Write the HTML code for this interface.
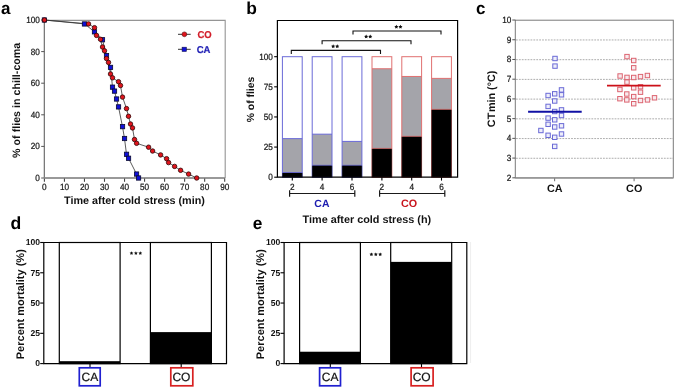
<!DOCTYPE html>
<html><head><meta charset="utf-8"><style>
html,body{margin:0;padding:0;background:#fff;}
svg{display:block;font-family:"Liberation Sans", sans-serif;will-change:transform;text-rendering:geometricPrecision;}
</style></head><body>
<svg width="675" height="388" viewBox="0 0 675 388">
<rect width="675" height="388" fill="#fff"/>
<text x="1.0" y="13.6" font-size="17.0" text-anchor="start" font-weight="bold" fill="#000" >a</text>
<text x="246.3" y="13.6" font-size="17.4" text-anchor="start" font-weight="bold" fill="#000" >b</text>
<text x="475.9" y="13.6" font-size="17.0" text-anchor="start" font-weight="bold" fill="#000" >c</text>
<text x="10.4" y="228.5" font-size="17.6" text-anchor="start" font-weight="bold" fill="#000" >d</text>
<text x="252.8" y="228.5" font-size="17.3" text-anchor="start" font-weight="bold" fill="#000" >e</text>
<path d="M44.4,178 V20.4 H225.2 V178" fill="none" stroke="#959595" stroke-width="1.1"/>
<line x1="44.4" y1="20.4" x2="44.4" y2="178" stroke="#7a7a7a" stroke-width="1.2" />
<line x1="44.4" y1="178" x2="225.2" y2="178" stroke="#999" stroke-width="1.9" />
<line x1="41.2" y1="178.0" x2="44.4" y2="178.0" stroke="#555" stroke-width="1" />
<text transform="translate(39.80 180.90) scale(1 1.1)" font-size="8.2" text-anchor="end" font-weight="normal" fill="#1a1a1a" stroke="#1a1a1a" stroke-width="0.22">0</text>
<line x1="41.2" y1="146.4" x2="44.4" y2="146.4" stroke="#555" stroke-width="1" />
<text transform="translate(39.80 149.30) scale(1 1.1)" font-size="8.2" text-anchor="end" font-weight="normal" fill="#1a1a1a" stroke="#1a1a1a" stroke-width="0.22">20</text>
<line x1="41.2" y1="114.8" x2="44.4" y2="114.8" stroke="#555" stroke-width="1" />
<text transform="translate(39.80 117.70) scale(1 1.1)" font-size="8.2" text-anchor="end" font-weight="normal" fill="#1a1a1a" stroke="#1a1a1a" stroke-width="0.22">40</text>
<line x1="41.2" y1="83.19999999999999" x2="44.4" y2="83.19999999999999" stroke="#555" stroke-width="1" />
<text transform="translate(39.80 86.10) scale(1 1.1)" font-size="8.2" text-anchor="end" font-weight="normal" fill="#1a1a1a" stroke="#1a1a1a" stroke-width="0.22">60</text>
<line x1="41.2" y1="51.599999999999994" x2="44.4" y2="51.599999999999994" stroke="#555" stroke-width="1" />
<text transform="translate(39.80 54.50) scale(1 1.1)" font-size="8.2" text-anchor="end" font-weight="normal" fill="#1a1a1a" stroke="#1a1a1a" stroke-width="0.22">80</text>
<line x1="41.2" y1="20.0" x2="44.4" y2="20.0" stroke="#555" stroke-width="1" />
<text transform="translate(39.80 22.90) scale(1 1.1)" font-size="8.2" text-anchor="end" font-weight="normal" fill="#1a1a1a" stroke="#1a1a1a" stroke-width="0.22">100</text>
<line x1="44.4" y1="178.5" x2="44.4" y2="181.8" stroke="#444" stroke-width="1.1" />
<text transform="translate(44.40 190.10) scale(1 1.1)" font-size="8.2" text-anchor="middle" font-weight="normal" fill="#1a1a1a" stroke="#1a1a1a" stroke-width="0.22">0</text>
<line x1="64.43299999999999" y1="178.5" x2="64.43299999999999" y2="181.8" stroke="#444" stroke-width="1.1" />
<text transform="translate(64.43 190.10) scale(1 1.1)" font-size="8.2" text-anchor="middle" font-weight="normal" fill="#1a1a1a" stroke="#1a1a1a" stroke-width="0.22">10</text>
<line x1="84.466" y1="178.5" x2="84.466" y2="181.8" stroke="#444" stroke-width="1.1" />
<text transform="translate(84.47 190.10) scale(1 1.1)" font-size="8.2" text-anchor="middle" font-weight="normal" fill="#1a1a1a" stroke="#1a1a1a" stroke-width="0.22">20</text>
<line x1="104.499" y1="178.5" x2="104.499" y2="181.8" stroke="#444" stroke-width="1.1" />
<text transform="translate(104.50 190.10) scale(1 1.1)" font-size="8.2" text-anchor="middle" font-weight="normal" fill="#1a1a1a" stroke="#1a1a1a" stroke-width="0.22">30</text>
<line x1="124.53199999999998" y1="178.5" x2="124.53199999999998" y2="181.8" stroke="#444" stroke-width="1.1" />
<text transform="translate(124.53 190.10) scale(1 1.1)" font-size="8.2" text-anchor="middle" font-weight="normal" fill="#1a1a1a" stroke="#1a1a1a" stroke-width="0.22">40</text>
<line x1="144.565" y1="178.5" x2="144.565" y2="181.8" stroke="#444" stroke-width="1.1" />
<text transform="translate(144.56 190.10) scale(1 1.1)" font-size="8.2" text-anchor="middle" font-weight="normal" fill="#1a1a1a" stroke="#1a1a1a" stroke-width="0.22">50</text>
<line x1="164.59799999999998" y1="178.5" x2="164.59799999999998" y2="181.8" stroke="#444" stroke-width="1.1" />
<text transform="translate(164.60 190.10) scale(1 1.1)" font-size="8.2" text-anchor="middle" font-weight="normal" fill="#1a1a1a" stroke="#1a1a1a" stroke-width="0.22">60</text>
<line x1="184.631" y1="178.5" x2="184.631" y2="181.8" stroke="#444" stroke-width="1.1" />
<text transform="translate(184.63 190.10) scale(1 1.1)" font-size="8.2" text-anchor="middle" font-weight="normal" fill="#1a1a1a" stroke="#1a1a1a" stroke-width="0.22">70</text>
<line x1="204.664" y1="178.5" x2="204.664" y2="181.8" stroke="#444" stroke-width="1.1" />
<text transform="translate(204.66 190.10) scale(1 1.1)" font-size="8.2" text-anchor="middle" font-weight="normal" fill="#1a1a1a" stroke="#1a1a1a" stroke-width="0.22">80</text>
<line x1="224.697" y1="178.5" x2="224.697" y2="181.8" stroke="#444" stroke-width="1.1" />
<text transform="translate(224.70 190.10) scale(1 1.1)" font-size="8.2" text-anchor="middle" font-weight="normal" fill="#1a1a1a" stroke="#1a1a1a" stroke-width="0.22">90</text>
<text x="134.5" y="204.2" font-size="10.8" text-anchor="middle" font-weight="bold" fill="#111" >Time after cold stress (min)</text>
<text x="19.8" y="100.3" font-size="10.7" text-anchor="middle" font-weight="bold" fill="#111" transform="rotate(-90 19.8 100.3)">% of flies in chill-coma</text>
<polyline points="44.4,20.0 84.5,23.9 94.5,31.8 102.5,39.8 106.5,55.5 110.5,67.4 112.5,87.1 114.5,91.1 116.5,99.0 118.5,106.9 122.5,126.7 124.5,138.5 126.5,154.3 128.5,158.2 136.6,174.1 138.6,178.0" fill="none" stroke="#333" stroke-width="0.8"/>
<polyline points="44.4,20.0 88.5,23.9 94.5,27.7 96.5,35.4 100.5,39.3 102.5,47.0 104.5,50.8 106.5,58.5 108.5,62.4 110.5,74.0 112.5,77.8 118.5,81.7 120.5,85.5 122.5,97.1 126.5,108.6 128.5,116.3 130.5,124.0 132.5,127.9 134.5,139.5 136.6,143.3 148.6,147.2 152.6,151.0 160.6,154.9 166.6,158.7 168.6,162.6 174.6,166.4 180.6,170.3 188.6,174.1 196.7,178.0" fill="none" stroke="#333" stroke-width="0.8"/>
<rect x="42.25" y="17.85" width="4.3" height="4.3" fill="#1010d8" stroke="#0a0a30" stroke-width="0.8" />
<rect x="82.31599999999999" y="21.79999999999999" width="4.3" height="4.3" fill="#1010d8" stroke="#0a0a30" stroke-width="0.8" />
<rect x="92.33249999999998" y="29.699999999999996" width="4.3" height="4.3" fill="#1010d8" stroke="#0a0a30" stroke-width="0.8" />
<rect x="100.3457" y="37.6" width="4.3" height="4.3" fill="#1010d8" stroke="#0a0a30" stroke-width="0.8" />
<rect x="104.35229999999999" y="53.4" width="4.3" height="4.3" fill="#1010d8" stroke="#0a0a30" stroke-width="0.8" />
<rect x="108.35889999999998" y="65.24999999999999" width="4.3" height="4.3" fill="#1010d8" stroke="#0a0a30" stroke-width="0.8" />
<rect x="110.3622" y="84.99999999999999" width="4.3" height="4.3" fill="#1010d8" stroke="#0a0a30" stroke-width="0.8" />
<rect x="112.3655" y="88.94999999999999" width="4.3" height="4.3" fill="#1010d8" stroke="#0a0a30" stroke-width="0.8" />
<rect x="114.3688" y="96.85" width="4.3" height="4.3" fill="#1010d8" stroke="#0a0a30" stroke-width="0.8" />
<rect x="116.37209999999999" y="104.74999999999999" width="4.3" height="4.3" fill="#1010d8" stroke="#0a0a30" stroke-width="0.8" />
<rect x="120.37869999999998" y="124.5" width="4.3" height="4.3" fill="#1010d8" stroke="#0a0a30" stroke-width="0.8" />
<rect x="122.38199999999998" y="136.35" width="4.3" height="4.3" fill="#1010d8" stroke="#0a0a30" stroke-width="0.8" />
<rect x="124.3853" y="152.15" width="4.3" height="4.3" fill="#1010d8" stroke="#0a0a30" stroke-width="0.8" />
<rect x="126.3886" y="156.1" width="4.3" height="4.3" fill="#1010d8" stroke="#0a0a30" stroke-width="0.8" />
<rect x="134.40179999999998" y="171.9" width="4.3" height="4.3" fill="#1010d8" stroke="#0a0a30" stroke-width="0.8" />
<rect x="136.40509999999998" y="175.85" width="4.3" height="4.3" fill="#1010d8" stroke="#0a0a30" stroke-width="0.8" />
<circle cx="44.4" cy="20.0" r="2.25" fill="#e0141c" stroke="#300808" stroke-width="0.8"/>
<circle cx="88.5" cy="23.9" r="2.25" fill="#e0141c" stroke="#300808" stroke-width="0.8"/>
<circle cx="94.5" cy="27.7" r="2.25" fill="#e0141c" stroke="#300808" stroke-width="0.8"/>
<circle cx="96.5" cy="35.4" r="2.25" fill="#e0141c" stroke="#300808" stroke-width="0.8"/>
<circle cx="100.5" cy="39.3" r="2.25" fill="#e0141c" stroke="#300808" stroke-width="0.8"/>
<circle cx="102.5" cy="47.0" r="2.25" fill="#e0141c" stroke="#300808" stroke-width="0.8"/>
<circle cx="104.5" cy="50.8" r="2.25" fill="#e0141c" stroke="#300808" stroke-width="0.8"/>
<circle cx="106.5" cy="58.5" r="2.25" fill="#e0141c" stroke="#300808" stroke-width="0.8"/>
<circle cx="108.5" cy="62.4" r="2.25" fill="#e0141c" stroke="#300808" stroke-width="0.8"/>
<circle cx="110.5" cy="74.0" r="2.25" fill="#e0141c" stroke="#300808" stroke-width="0.8"/>
<circle cx="112.5" cy="77.8" r="2.25" fill="#e0141c" stroke="#300808" stroke-width="0.8"/>
<circle cx="118.5" cy="81.7" r="2.25" fill="#e0141c" stroke="#300808" stroke-width="0.8"/>
<circle cx="120.5" cy="85.5" r="2.25" fill="#e0141c" stroke="#300808" stroke-width="0.8"/>
<circle cx="122.5" cy="97.1" r="2.25" fill="#e0141c" stroke="#300808" stroke-width="0.8"/>
<circle cx="126.5" cy="108.6" r="2.25" fill="#e0141c" stroke="#300808" stroke-width="0.8"/>
<circle cx="128.5" cy="116.3" r="2.25" fill="#e0141c" stroke="#300808" stroke-width="0.8"/>
<circle cx="130.5" cy="124.0" r="2.25" fill="#e0141c" stroke="#300808" stroke-width="0.8"/>
<circle cx="132.5" cy="127.9" r="2.25" fill="#e0141c" stroke="#300808" stroke-width="0.8"/>
<circle cx="134.5" cy="139.5" r="2.25" fill="#e0141c" stroke="#300808" stroke-width="0.8"/>
<circle cx="136.6" cy="143.3" r="2.25" fill="#e0141c" stroke="#300808" stroke-width="0.8"/>
<circle cx="148.6" cy="147.2" r="2.25" fill="#e0141c" stroke="#300808" stroke-width="0.8"/>
<circle cx="152.6" cy="151.0" r="2.25" fill="#e0141c" stroke="#300808" stroke-width="0.8"/>
<circle cx="160.6" cy="154.9" r="2.25" fill="#e0141c" stroke="#300808" stroke-width="0.8"/>
<circle cx="166.6" cy="158.7" r="2.25" fill="#e0141c" stroke="#300808" stroke-width="0.8"/>
<circle cx="168.6" cy="162.6" r="2.25" fill="#e0141c" stroke="#300808" stroke-width="0.8"/>
<circle cx="174.6" cy="166.4" r="2.25" fill="#e0141c" stroke="#300808" stroke-width="0.8"/>
<circle cx="180.6" cy="170.3" r="2.25" fill="#e0141c" stroke="#300808" stroke-width="0.8"/>
<circle cx="188.6" cy="174.1" r="2.25" fill="#e0141c" stroke="#300808" stroke-width="0.8"/>
<circle cx="196.7" cy="178.0" r="2.25" fill="#e0141c" stroke="#300808" stroke-width="0.8"/>
<line x1="178" y1="34.3" x2="190.7" y2="34.3" stroke="#333" stroke-width="1" />
<circle cx="184.4" cy="34.3" r="2.4" fill="#e0141c" stroke="#501010" stroke-width="0.6"/>
<text transform="translate(197.50 37.50) scale(1 1.05)" font-size="9.5" text-anchor="start" font-weight="bold" fill="#d21e2a" stroke="#d21e2a" stroke-width="0.2">CO</text>
<line x1="178" y1="49.3" x2="190.7" y2="49.3" stroke="#333" stroke-width="1" />
<rect x="182.1" y="47.2" width="4.2" height="4.2" fill="#1010d8" stroke="#101050" stroke-width="0.6" />
<text transform="translate(196.70 52.50) scale(1 1.05)" font-size="9.5" text-anchor="start" font-weight="bold" fill="#1e1eb4" stroke="#1e1eb4" stroke-width="0.2">CA</text>
<rect x="282.40000000000003" y="56.69999999999999" width="19.8" height="81.94" fill="#fff" stroke="none" stroke-width="1" />
<rect x="282.40000000000003" y="138.64" width="19.8" height="33.8605" fill="#a4a4aa" stroke="none" stroke-width="1" />
<rect x="282.40000000000003" y="172.5005" width="19.8" height="4.6995000000000005" fill="#000" stroke="none" stroke-width="1" />
<rect x="282.40000000000003" y="56.69999999999999" width="19.8" height="120.5" fill="none" stroke="#6a6ad8" stroke-width="1" />
<line x1="282.40000000000003" y1="138.64" x2="302.20000000000005" y2="138.64" stroke="#6a6ad8" stroke-width="1" />
<line x1="282.40000000000003" y1="172.5005" x2="302.20000000000005" y2="172.5005" stroke="#6a6ad8" stroke-width="0.9" />
<rect x="282.15000000000003" y="172.95049999999998" width="20.3" height="4.2495" fill="#000" stroke="none" stroke-width="1" opacity="0.75"/>
<rect x="312.20000000000005" y="56.69999999999999" width="19.8" height="77.48149999999998" fill="#fff" stroke="none" stroke-width="1" />
<rect x="312.20000000000005" y="134.18149999999997" width="19.8" height="31.089000000000027" fill="#a4a4aa" stroke="none" stroke-width="1" />
<rect x="312.20000000000005" y="165.2705" width="19.8" height="11.92949999999999" fill="#000" stroke="none" stroke-width="1" />
<rect x="312.20000000000005" y="56.69999999999999" width="19.8" height="120.5" fill="none" stroke="#6a6ad8" stroke-width="1" />
<line x1="312.20000000000005" y1="134.18149999999997" x2="332.00000000000006" y2="134.18149999999997" stroke="#6a6ad8" stroke-width="1" />
<line x1="312.20000000000005" y1="165.2705" x2="332.00000000000006" y2="165.2705" stroke="#6a6ad8" stroke-width="0.9" />
<rect x="311.95000000000005" y="165.7205" width="20.3" height="11.479499999999991" fill="#000" stroke="none" stroke-width="1" opacity="0.75"/>
<rect x="342.1" y="56.69999999999999" width="19.8" height="84.7115" fill="#fff" stroke="none" stroke-width="1" />
<rect x="342.1" y="141.4115" width="19.8" height="23.85900000000001" fill="#a4a4aa" stroke="none" stroke-width="1" />
<rect x="342.1" y="165.2705" width="19.8" height="11.92949999999999" fill="#000" stroke="none" stroke-width="1" />
<rect x="342.1" y="56.69999999999999" width="19.8" height="120.5" fill="none" stroke="#6a6ad8" stroke-width="1" />
<line x1="342.1" y1="141.4115" x2="361.90000000000003" y2="141.4115" stroke="#6a6ad8" stroke-width="1" />
<line x1="342.1" y1="165.2705" x2="361.90000000000003" y2="165.2705" stroke="#6a6ad8" stroke-width="0.9" />
<rect x="341.85" y="165.7205" width="20.3" height="11.479499999999991" fill="#000" stroke="none" stroke-width="1" opacity="0.75"/>
<rect x="372.0" y="56.69999999999999" width="19.8" height="12.049999999999997" fill="#fff" stroke="none" stroke-width="1" />
<rect x="372.0" y="68.74999999999999" width="19.8" height="79.65050000000001" fill="#a4a4aa" stroke="none" stroke-width="1" />
<rect x="372.0" y="148.4005" width="19.8" height="28.799499999999995" fill="#000" stroke="none" stroke-width="1" />
<rect x="372.0" y="56.69999999999999" width="19.8" height="120.5" fill="none" stroke="#e07070" stroke-width="1" />
<line x1="372.0" y1="68.74999999999999" x2="391.8" y2="68.74999999999999" stroke="#e07070" stroke-width="1" />
<line x1="372.0" y1="148.4005" x2="391.8" y2="148.4005" stroke="#e07070" stroke-width="0.9" />
<rect x="371.75" y="148.85049999999998" width="20.3" height="28.349499999999995" fill="#000" stroke="none" stroke-width="1" opacity="0.75"/>
<rect x="401.8" y="56.69999999999999" width="19.8" height="19.762" fill="#fff" stroke="none" stroke-width="1" />
<rect x="401.8" y="76.46199999999999" width="19.8" height="59.88849999999999" fill="#a4a4aa" stroke="none" stroke-width="1" />
<rect x="401.8" y="136.35049999999998" width="19.8" height="40.849500000000006" fill="#000" stroke="none" stroke-width="1" />
<rect x="401.8" y="56.69999999999999" width="19.8" height="120.5" fill="none" stroke="#e07070" stroke-width="1" />
<line x1="401.8" y1="76.46199999999999" x2="421.6" y2="76.46199999999999" stroke="#e07070" stroke-width="1" />
<line x1="401.8" y1="136.35049999999998" x2="421.6" y2="136.35049999999998" stroke="#e07070" stroke-width="0.9" />
<rect x="401.55" y="136.80049999999997" width="20.3" height="40.3995" fill="#000" stroke="none" stroke-width="1" opacity="0.75"/>
<rect x="431.6" y="56.69999999999999" width="19.8" height="21.689999999999998" fill="#fff" stroke="none" stroke-width="1" />
<rect x="431.6" y="78.38999999999999" width="19.8" height="30.968500000000006" fill="#a4a4aa" stroke="none" stroke-width="1" />
<rect x="431.6" y="109.35849999999999" width="19.8" height="67.8415" fill="#000" stroke="none" stroke-width="1" />
<rect x="431.6" y="56.69999999999999" width="19.8" height="120.5" fill="none" stroke="#e07070" stroke-width="1" />
<line x1="431.6" y1="78.38999999999999" x2="451.40000000000003" y2="78.38999999999999" stroke="#e07070" stroke-width="1" />
<line x1="431.6" y1="109.35849999999999" x2="451.40000000000003" y2="109.35849999999999" stroke="#e07070" stroke-width="0.9" />
<rect x="431.35" y="109.8085" width="20.3" height="67.3915" fill="#000" stroke="none" stroke-width="1" opacity="0.75"/>
<path d="M277.4,20.5 H457.6 V177.2 H277.4 Z" fill="none" stroke="#000" stroke-width="1.2"/>
<line x1="274.2" y1="177.2" x2="277.4" y2="177.2" stroke="#000" stroke-width="1.1" />
<text transform="translate(272.90 180.10) scale(1 1.1)" font-size="8.2" text-anchor="end" font-weight="normal" fill="#1a1a1a" stroke="#1a1a1a" stroke-width="0.22">0</text>
<line x1="274.2" y1="147.075" x2="277.4" y2="147.075" stroke="#000" stroke-width="1.1" />
<text transform="translate(272.90 149.97) scale(1 1.1)" font-size="8.2" text-anchor="end" font-weight="normal" fill="#1a1a1a" stroke="#1a1a1a" stroke-width="0.22">25</text>
<line x1="274.2" y1="116.94999999999999" x2="277.4" y2="116.94999999999999" stroke="#000" stroke-width="1.1" />
<text transform="translate(272.90 119.85) scale(1 1.1)" font-size="8.2" text-anchor="end" font-weight="normal" fill="#1a1a1a" stroke="#1a1a1a" stroke-width="0.22">50</text>
<line x1="274.2" y1="86.82499999999999" x2="277.4" y2="86.82499999999999" stroke="#000" stroke-width="1.1" />
<text transform="translate(272.90 89.72) scale(1 1.1)" font-size="8.2" text-anchor="end" font-weight="normal" fill="#1a1a1a" stroke="#1a1a1a" stroke-width="0.22">75</text>
<line x1="274.2" y1="56.69999999999999" x2="277.4" y2="56.69999999999999" stroke="#000" stroke-width="1.1" />
<text transform="translate(272.90 59.60) scale(1 1.1)" font-size="8.2" text-anchor="end" font-weight="normal" fill="#1a1a1a" stroke="#1a1a1a" stroke-width="0.22">100</text>
<line x1="292.3" y1="177.2" x2="292.3" y2="180.6" stroke="#000" stroke-width="1.1" />
<text transform="translate(292.30 189.60) scale(1 1.1)" font-size="8.2" text-anchor="middle" font-weight="normal" fill="#1a1a1a" stroke="#1a1a1a" stroke-width="0.22">2</text>
<line x1="322.1" y1="177.2" x2="322.1" y2="180.6" stroke="#000" stroke-width="1.1" />
<text transform="translate(322.10 189.60) scale(1 1.1)" font-size="8.2" text-anchor="middle" font-weight="normal" fill="#1a1a1a" stroke="#1a1a1a" stroke-width="0.22">4</text>
<line x1="352.0" y1="177.2" x2="352.0" y2="180.6" stroke="#000" stroke-width="1.1" />
<text transform="translate(352.00 189.60) scale(1 1.1)" font-size="8.2" text-anchor="middle" font-weight="normal" fill="#1a1a1a" stroke="#1a1a1a" stroke-width="0.22">6</text>
<line x1="381.9" y1="177.2" x2="381.9" y2="180.6" stroke="#000" stroke-width="1.1" />
<text transform="translate(381.90 189.60) scale(1 1.1)" font-size="8.2" text-anchor="middle" font-weight="normal" fill="#1a1a1a" stroke="#1a1a1a" stroke-width="0.22">2</text>
<line x1="411.7" y1="177.2" x2="411.7" y2="180.6" stroke="#000" stroke-width="1.1" />
<text transform="translate(411.70 189.60) scale(1 1.1)" font-size="8.2" text-anchor="middle" font-weight="normal" fill="#1a1a1a" stroke="#1a1a1a" stroke-width="0.22">4</text>
<line x1="441.5" y1="177.2" x2="441.5" y2="180.6" stroke="#000" stroke-width="1.1" />
<text transform="translate(441.50 189.60) scale(1 1.1)" font-size="8.2" text-anchor="middle" font-weight="normal" fill="#1a1a1a" stroke="#1a1a1a" stroke-width="0.22">6</text>
<path d="M289.6,190.3 V196.8 M289.6,193.5 H354.8 M354.8,190.3 V196.8" stroke="#1a1a1a" stroke-width="1.2" fill="none"/>
<path d="M379.6,190.3 V196.8 M379.6,193.5 H444.8 M444.8,190.3 V196.8" stroke="#1a1a1a" stroke-width="1.2" fill="none"/>
<text x="321.9" y="207.1" font-size="10.45" text-anchor="middle" font-weight="bold" fill="#1c1cb0" >CA</text>
<text x="409.1" y="207.2" font-size="10.8" text-anchor="middle" font-weight="bold" fill="#c8161e" >CO</text>
<text x="366.9" y="222.5" font-size="10.84" text-anchor="middle" font-weight="bold" fill="#111" >Time after cold stress (h)</text>
<text x="253.8" y="99.5" font-size="10.35" text-anchor="middle" font-weight="bold" fill="#111" transform="rotate(-90 253.8 99.5)">% of flies</text>
<path d="M291.3,54.0 V50.4 H380.5 V54.0" stroke="#111" stroke-width="1.1" fill="none"/>
<polygon points="333.15,44.20 333.80,45.41 335.15,45.65 334.20,46.64 334.38,48.00 333.15,47.40 331.92,48.00 332.10,46.64 331.15,45.65 332.50,45.41" fill="#111"/>
<polygon points="337.25,44.20 337.90,45.41 339.25,45.65 338.30,46.64 338.48,48.00 337.25,47.40 336.02,48.00 336.20,46.64 335.25,45.65 336.60,45.41" fill="#111"/>
<path d="M322.1,44.300000000000004 V40.7 H411 V44.300000000000004" stroke="#111" stroke-width="1.1" fill="none"/>
<polygon points="366.15,34.50 366.80,35.71 368.15,35.95 367.20,36.94 367.38,38.30 366.15,37.70 364.92,38.30 365.10,36.94 364.15,35.95 365.50,35.71" fill="#111"/>
<polygon points="370.25,34.50 370.90,35.71 372.25,35.95 371.30,36.94 371.48,38.30 370.25,37.70 369.02,38.30 369.20,36.94 368.25,35.95 369.60,35.71" fill="#111"/>
<path d="M353,34.6 V31 H441 V34.6" stroke="#111" stroke-width="1.1" fill="none"/>
<polygon points="396.35,24.80 397.00,26.01 398.35,26.25 397.40,27.24 397.58,28.60 396.35,28.00 395.12,28.60 395.30,27.24 394.35,26.25 395.70,26.01" fill="#111"/>
<polygon points="400.45,24.80 401.10,26.01 402.45,26.25 401.50,27.24 401.68,28.60 400.45,28.00 399.22,28.60 399.40,27.24 398.45,26.25 399.80,26.01" fill="#111"/>
<line x1="516" y1="158.28" x2="673" y2="158.28" stroke="#a4a4a4" stroke-width="0.9" stroke-dasharray="1.8,1.1"/>
<line x1="516" y1="138.56" x2="673" y2="138.56" stroke="#a4a4a4" stroke-width="0.9" stroke-dasharray="1.8,1.1"/>
<line x1="516" y1="118.84000000000002" x2="673" y2="118.84000000000002" stroke="#a4a4a4" stroke-width="0.9" stroke-dasharray="1.8,1.1"/>
<line x1="516" y1="99.12000000000002" x2="673" y2="99.12000000000002" stroke="#a4a4a4" stroke-width="0.9" stroke-dasharray="1.8,1.1"/>
<line x1="516" y1="79.40000000000002" x2="673" y2="79.40000000000002" stroke="#a4a4a4" stroke-width="0.9" stroke-dasharray="1.8,1.1"/>
<line x1="516" y1="59.68000000000002" x2="673" y2="59.68000000000002" stroke="#a4a4a4" stroke-width="0.9" stroke-dasharray="1.8,1.1"/>
<line x1="516" y1="39.96000000000002" x2="673" y2="39.96000000000002" stroke="#a4a4a4" stroke-width="0.9" stroke-dasharray="1.8,1.1"/>
<rect x="515.3" y="20.2" width="158" height="157.6" fill="none" stroke="#7a7a7a" stroke-width="1" />
<line x1="515.3" y1="177.8" x2="673.3" y2="177.8" stroke="#999" stroke-width="1.8" />
<line x1="512.3" y1="177.8" x2="515.3" y2="177.8" stroke="#555" stroke-width="1" />
<text transform="translate(511.30 180.70) scale(1 1.1)" font-size="8.2" text-anchor="end" font-weight="normal" fill="#1a1a1a" stroke="#1a1a1a" stroke-width="0.22">2</text>
<line x1="512.3" y1="158.08" x2="515.3" y2="158.08" stroke="#555" stroke-width="1" />
<text transform="translate(511.30 160.98) scale(1 1.1)" font-size="8.2" text-anchor="end" font-weight="normal" fill="#1a1a1a" stroke="#1a1a1a" stroke-width="0.22">3</text>
<line x1="512.3" y1="138.36" x2="515.3" y2="138.36" stroke="#555" stroke-width="1" />
<text transform="translate(511.30 141.26) scale(1 1.1)" font-size="8.2" text-anchor="end" font-weight="normal" fill="#1a1a1a" stroke="#1a1a1a" stroke-width="0.22">4</text>
<line x1="512.3" y1="118.64000000000001" x2="515.3" y2="118.64000000000001" stroke="#555" stroke-width="1" />
<text transform="translate(511.30 121.54) scale(1 1.1)" font-size="8.2" text-anchor="end" font-weight="normal" fill="#1a1a1a" stroke="#1a1a1a" stroke-width="0.22">5</text>
<line x1="512.3" y1="98.92000000000002" x2="515.3" y2="98.92000000000002" stroke="#555" stroke-width="1" />
<text transform="translate(511.30 101.82) scale(1 1.1)" font-size="8.2" text-anchor="end" font-weight="normal" fill="#1a1a1a" stroke="#1a1a1a" stroke-width="0.22">6</text>
<line x1="512.3" y1="79.20000000000002" x2="515.3" y2="79.20000000000002" stroke="#555" stroke-width="1" />
<text transform="translate(511.30 82.10) scale(1 1.1)" font-size="8.2" text-anchor="end" font-weight="normal" fill="#1a1a1a" stroke="#1a1a1a" stroke-width="0.22">7</text>
<line x1="512.3" y1="59.48000000000002" x2="515.3" y2="59.48000000000002" stroke="#555" stroke-width="1" />
<text transform="translate(511.30 62.38) scale(1 1.1)" font-size="8.2" text-anchor="end" font-weight="normal" fill="#1a1a1a" stroke="#1a1a1a" stroke-width="0.22">8</text>
<line x1="512.3" y1="39.76000000000002" x2="515.3" y2="39.76000000000002" stroke="#555" stroke-width="1" />
<text transform="translate(511.30 42.66) scale(1 1.1)" font-size="8.2" text-anchor="end" font-weight="normal" fill="#1a1a1a" stroke="#1a1a1a" stroke-width="0.22">9</text>
<line x1="512.3" y1="20.04000000000002" x2="515.3" y2="20.04000000000002" stroke="#555" stroke-width="1" />
<text transform="translate(511.30 22.94) scale(1 1.1)" font-size="8.2" text-anchor="end" font-weight="normal" fill="#1a1a1a" stroke="#1a1a1a" stroke-width="0.22">10</text>
<line x1="554.6" y1="178.3" x2="554.6" y2="181.3" stroke="#777" stroke-width="1.1" />
<line x1="634.1" y1="178.3" x2="634.1" y2="181.3" stroke="#777" stroke-width="1.1" />
<text x="554.8" y="191.6" font-size="10.8" text-anchor="middle" font-weight="bold" fill="#111" >CA</text>
<text x="634.2" y="191.6" font-size="10.8" text-anchor="middle" font-weight="bold" fill="#111" >CO</text>
<text x="495.3" y="98.9" font-size="10.75" text-anchor="middle" font-weight="bold" fill="#111" transform="rotate(-90 495.3 98.9)">CT<tspan dx="0.8">min (°C)</tspan></text>
<rect x="552.8" y="56.3" width="4.4" height="4.4" fill="#eeeefa" stroke="#6a6ad6" stroke-width="1.0" />
<rect x="552.8" y="63.89999999999999" width="4.4" height="4.4" fill="#eeeefa" stroke="#6a6ad6" stroke-width="1.0" />
<rect x="559.3" y="87.7" width="4.4" height="4.4" fill="#eeeefa" stroke="#6a6ad6" stroke-width="1.0" />
<rect x="559.3" y="92.6" width="4.4" height="4.4" fill="#eeeefa" stroke="#6a6ad6" stroke-width="1.0" />
<rect x="545.9" y="93.3" width="4.4" height="4.4" fill="#eeeefa" stroke="#6a6ad6" stroke-width="1.0" />
<rect x="552.5" y="91.6" width="4.4" height="4.4" fill="#eeeefa" stroke="#6a6ad6" stroke-width="1.0" />
<rect x="552.5" y="98.8" width="4.4" height="4.4" fill="#eeeefa" stroke="#6a6ad6" stroke-width="1.0" />
<rect x="545.9" y="104.2" width="4.4" height="4.4" fill="#eeeefa" stroke="#6a6ad6" stroke-width="1.0" />
<rect x="552.5" y="109.3" width="4.4" height="4.4" fill="#eeeefa" stroke="#6a6ad6" stroke-width="1.0" />
<rect x="559.3" y="107.7" width="4.4" height="4.4" fill="#eeeefa" stroke="#6a6ad6" stroke-width="1.0" />
<rect x="559.3" y="113.3" width="4.4" height="4.4" fill="#eeeefa" stroke="#6a6ad6" stroke-width="1.0" />
<rect x="545.9" y="115.89999999999999" width="4.4" height="4.4" fill="#eeeefa" stroke="#6a6ad6" stroke-width="1.0" />
<rect x="552.5" y="117.6" width="4.4" height="4.4" fill="#eeeefa" stroke="#6a6ad6" stroke-width="1.0" />
<rect x="545.9" y="122.1" width="4.4" height="4.4" fill="#eeeefa" stroke="#6a6ad6" stroke-width="1.0" />
<rect x="552.5" y="124.8" width="4.4" height="4.4" fill="#eeeefa" stroke="#6a6ad6" stroke-width="1.0" />
<rect x="559.3" y="123.6" width="4.4" height="4.4" fill="#eeeefa" stroke="#6a6ad6" stroke-width="1.0" />
<rect x="538.6999999999999" y="128.3" width="4.4" height="4.4" fill="#eeeefa" stroke="#6a6ad6" stroke-width="1.0" />
<rect x="545.9" y="133.10000000000002" width="4.4" height="4.4" fill="#eeeefa" stroke="#6a6ad6" stroke-width="1.0" />
<rect x="552.5" y="135.10000000000002" width="4.4" height="4.4" fill="#eeeefa" stroke="#6a6ad6" stroke-width="1.0" />
<rect x="559.3" y="131.8" width="4.4" height="4.4" fill="#eeeefa" stroke="#6a6ad6" stroke-width="1.0" />
<rect x="552.5" y="144.20000000000002" width="4.4" height="4.4" fill="#eeeefa" stroke="#6a6ad6" stroke-width="1.0" />
<rect x="624.8" y="54.4" width="4.4" height="4.4" fill="#f8eaee" stroke="#dc6470" stroke-width="1.0" />
<rect x="631.5" y="58.3" width="4.4" height="4.4" fill="#f8eaee" stroke="#dc6470" stroke-width="1.0" />
<rect x="631.5" y="65.6" width="4.4" height="4.4" fill="#f8eaee" stroke="#dc6470" stroke-width="1.0" />
<rect x="617.9" y="73.8" width="4.4" height="4.4" fill="#f8eaee" stroke="#dc6470" stroke-width="1.0" />
<rect x="624.8" y="75.2" width="4.4" height="4.4" fill="#f8eaee" stroke="#dc6470" stroke-width="1.0" />
<rect x="631.5" y="75.3" width="4.4" height="4.4" fill="#f8eaee" stroke="#dc6470" stroke-width="1.0" />
<rect x="638.3" y="74.39999999999999" width="4.4" height="4.4" fill="#f8eaee" stroke="#dc6470" stroke-width="1.0" />
<rect x="645.1999999999999" y="73.3" width="4.4" height="4.4" fill="#f8eaee" stroke="#dc6470" stroke-width="1.0" />
<rect x="624.8" y="79.89999999999999" width="4.4" height="4.4" fill="#f8eaee" stroke="#dc6470" stroke-width="1.0" />
<rect x="617.6999999999999" y="87.3" width="4.4" height="4.4" fill="#f8eaee" stroke="#dc6470" stroke-width="1.0" />
<rect x="631.5" y="85.6" width="4.4" height="4.4" fill="#f8eaee" stroke="#dc6470" stroke-width="1.0" />
<rect x="638.3" y="84.5" width="4.4" height="4.4" fill="#f8eaee" stroke="#dc6470" stroke-width="1.0" />
<rect x="638.3" y="90.0" width="4.4" height="4.4" fill="#f8eaee" stroke="#dc6470" stroke-width="1.0" />
<rect x="624.5999999999999" y="91.8" width="4.4" height="4.4" fill="#f8eaee" stroke="#dc6470" stroke-width="1.0" />
<rect x="631.5" y="94.39999999999999" width="4.4" height="4.4" fill="#f8eaee" stroke="#dc6470" stroke-width="1.0" />
<rect x="617.6999999999999" y="96.5" width="4.4" height="4.4" fill="#f8eaee" stroke="#dc6470" stroke-width="1.0" />
<rect x="624.5999999999999" y="97.7" width="4.4" height="4.4" fill="#f8eaee" stroke="#dc6470" stroke-width="1.0" />
<rect x="638.3" y="98.3" width="4.4" height="4.4" fill="#f8eaee" stroke="#dc6470" stroke-width="1.0" />
<rect x="645.3" y="97.7" width="4.4" height="4.4" fill="#f8eaee" stroke="#dc6470" stroke-width="1.0" />
<rect x="652.3" y="95.6" width="4.4" height="4.4" fill="#f8eaee" stroke="#dc6470" stroke-width="1.0" />
<rect x="631.5" y="101.5" width="4.4" height="4.4" fill="#f8eaee" stroke="#dc6470" stroke-width="1.0" />
<line x1="528.1" y1="111.7" x2="581.7" y2="111.7" stroke="#1010a4" stroke-width="1.9" />
<line x1="607" y1="85.6" x2="660.7" y2="85.6" stroke="#cc1018" stroke-width="1.9" />
<line x1="470.6" y1="242" x2="470.6" y2="363" stroke="#eeeeee" stroke-width="1" />
<rect x="59.3" y="242.5" width="60.8" height="121.10000000000002" fill="#fff" stroke="none" stroke-width="1" />
<rect x="59.3" y="361.178" width="60.8" height="2.4220000000000255" fill="#000" stroke="none" stroke-width="1" />
<rect x="150.4" y="332.11400000000003" width="61.0" height="31.48599999999999" fill="#000" stroke="none" stroke-width="1" />
<rect x="59.3" y="242.5" width="60.8" height="121.10000000000002" fill="none" stroke="#000" stroke-width="1.2" />
<rect x="150.4" y="242.5" width="61.0" height="121.10000000000002" fill="none" stroke="#000" stroke-width="1.2" />
<path d="M43.8,242.5 H226.5 V363.6 H43.8 Z" fill="none" stroke="#000" stroke-width="1.2"/>
<line x1="40.2" y1="363.6" x2="43.8" y2="363.6" stroke="#000" stroke-width="1.1" />
<text x="40.0" y="366.40000000000003" font-size="8.6" text-anchor="end" font-weight="bold" fill="#111" >0</text>
<line x1="40.2" y1="333.32500000000005" x2="43.8" y2="333.32500000000005" stroke="#000" stroke-width="1.1" />
<text x="40.0" y="336.12500000000006" font-size="8.6" text-anchor="end" font-weight="bold" fill="#111" >25</text>
<line x1="40.2" y1="303.05" x2="43.8" y2="303.05" stroke="#000" stroke-width="1.1" />
<text x="40.0" y="305.85" font-size="8.6" text-anchor="end" font-weight="bold" fill="#111" >50</text>
<line x1="40.2" y1="272.775" x2="43.8" y2="272.775" stroke="#000" stroke-width="1.1" />
<text x="40.0" y="275.575" font-size="8.6" text-anchor="end" font-weight="bold" fill="#111" >75</text>
<line x1="40.2" y1="242.5" x2="43.8" y2="242.5" stroke="#000" stroke-width="1.1" />
<text x="40.0" y="245.3" font-size="8.6" text-anchor="end" font-weight="bold" fill="#111" >100</text>
<line x1="90" y1="363.6" x2="90" y2="367" stroke="#000" stroke-width="1.1" />
<line x1="181.2" y1="363.6" x2="181.2" y2="367" stroke="#000" stroke-width="1.1" />
<rect x="79.3" y="367.8" width="20.9" height="18.0" fill="#fff" stroke="#2020d0" stroke-width="1.7" />
<rect x="170.8" y="367.8" width="22.0" height="18.0" fill="#fff" stroke="#d82020" stroke-width="1.7" />
<text x="89.9" y="381.0" font-size="12.0" text-anchor="middle" font-weight="normal" fill="#111" stroke="#111" stroke-width="0.2">CA</text>
<text x="181.4" y="381.0" font-size="12.0" text-anchor="middle" font-weight="normal" fill="#111" stroke="#111" stroke-width="0.2">CO</text>
<polygon points="131.50,251.20 132.09,252.39 133.40,252.58 132.45,253.51 132.68,254.82 131.50,254.20 130.32,254.82 130.55,253.51 129.60,252.58 130.91,252.39" fill="#111"/>
<polygon points="135.90,251.20 136.49,252.39 137.80,252.58 136.85,253.51 137.08,254.82 135.90,254.20 134.72,254.82 134.95,253.51 134.00,252.58 135.31,252.39" fill="#111"/>
<polygon points="140.30,251.20 140.89,252.39 142.20,252.58 141.25,253.51 141.48,254.82 140.30,254.20 139.12,254.82 139.35,253.51 138.40,252.58 139.71,252.39" fill="#111"/>
<text x="23.7" y="304.2" font-size="11.0" text-anchor="middle" font-weight="bold" fill="#111" transform="rotate(-90 23.7 304.2)">Percent mortality (%)</text>
<rect x="299.6" y="242.5" width="60.8" height="121.10000000000002" fill="#fff" stroke="none" stroke-width="1" />
<rect x="299.6" y="351.73220000000003" width="60.8" height="11.867799999999988" fill="#000" stroke="none" stroke-width="1" />
<rect x="390.70000000000005" y="261.876" width="61.0" height="101.72400000000005" fill="#000" stroke="none" stroke-width="1" />
<rect x="299.6" y="242.5" width="60.8" height="121.10000000000002" fill="none" stroke="#000" stroke-width="1.2" />
<rect x="390.70000000000005" y="242.5" width="61.0" height="121.10000000000002" fill="none" stroke="#000" stroke-width="1.2" />
<path d="M284.1,242.5 H466.8 V363.6 H284.1 Z" fill="none" stroke="#000" stroke-width="1.2"/>
<line x1="280.5" y1="363.6" x2="284.1" y2="363.6" stroke="#000" stroke-width="1.1" />
<text x="280.3" y="366.40000000000003" font-size="8.6" text-anchor="end" font-weight="bold" fill="#111" >0</text>
<line x1="280.5" y1="333.32500000000005" x2="284.1" y2="333.32500000000005" stroke="#000" stroke-width="1.1" />
<text x="280.3" y="336.12500000000006" font-size="8.6" text-anchor="end" font-weight="bold" fill="#111" >25</text>
<line x1="280.5" y1="303.05" x2="284.1" y2="303.05" stroke="#000" stroke-width="1.1" />
<text x="280.3" y="305.85" font-size="8.6" text-anchor="end" font-weight="bold" fill="#111" >50</text>
<line x1="280.5" y1="272.775" x2="284.1" y2="272.775" stroke="#000" stroke-width="1.1" />
<text x="280.3" y="275.575" font-size="8.6" text-anchor="end" font-weight="bold" fill="#111" >75</text>
<line x1="280.5" y1="242.5" x2="284.1" y2="242.5" stroke="#000" stroke-width="1.1" />
<text x="280.3" y="245.3" font-size="8.6" text-anchor="end" font-weight="bold" fill="#111" >100</text>
<line x1="330.3" y1="363.6" x2="330.3" y2="367" stroke="#000" stroke-width="1.1" />
<line x1="421.5" y1="363.6" x2="421.5" y2="367" stroke="#000" stroke-width="1.1" />
<rect x="319.6" y="367.8" width="20.9" height="18.0" fill="#fff" stroke="#2020d0" stroke-width="1.7" />
<rect x="411.1" y="367.8" width="22.0" height="18.0" fill="#fff" stroke="#d82020" stroke-width="1.7" />
<text x="330.20000000000005" y="381.0" font-size="12.0" text-anchor="middle" font-weight="normal" fill="#111" stroke="#111" stroke-width="0.2">CA</text>
<text x="421.70000000000005" y="381.0" font-size="12.0" text-anchor="middle" font-weight="normal" fill="#111" stroke="#111" stroke-width="0.2">CO</text>
<polygon points="371.40,252.40 371.99,253.59 373.30,253.78 372.35,254.71 372.58,256.02 371.40,255.40 370.22,256.02 370.45,254.71 369.50,253.78 370.81,253.59" fill="#111"/>
<polygon points="375.80,252.40 376.39,253.59 377.70,253.78 376.75,254.71 376.98,256.02 375.80,255.40 374.62,256.02 374.85,254.71 373.90,253.78 375.21,253.59" fill="#111"/>
<polygon points="380.20,252.40 380.79,253.59 382.10,253.78 381.15,254.71 381.38,256.02 380.20,255.40 379.02,256.02 379.25,254.71 378.30,253.78 379.61,253.59" fill="#111"/>
<text x="264.0" y="304.2" font-size="11.0" text-anchor="middle" font-weight="bold" fill="#111" transform="rotate(-90 264.0 304.2)">Percent mortality (%)</text>
</svg>
</body></html>
